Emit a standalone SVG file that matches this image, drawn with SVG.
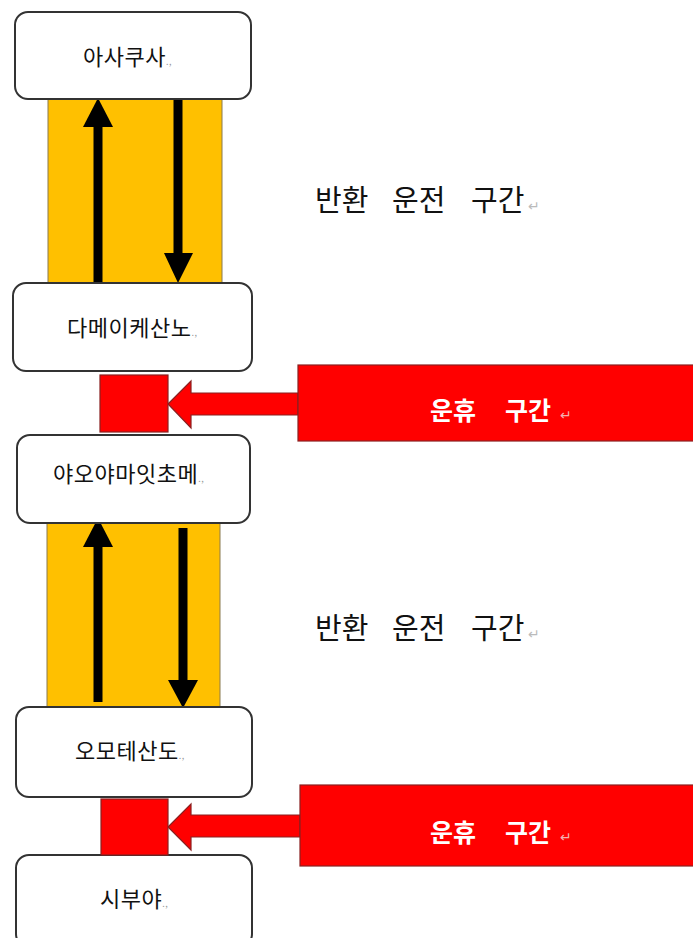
<svg xmlns="http://www.w3.org/2000/svg" width="693" height="938" viewBox="0 0 693 938">
<defs>
<style>
.box{fill:#fff;stroke:#333;stroke-width:2}
.band{fill:#FFC000;stroke:#8a7a50;stroke-width:1}
.blk{stroke:#000;stroke-width:9;fill:none}
.red{fill:#FF0000;stroke:#8a2020;stroke-width:1.2}
.lbl{font-family:"Noto Sans CJK KR","Noto Sans",sans-serif;font-size:22px;fill:#111;letter-spacing:0.5px}
.mark{font-family:"Noto Sans CJK KR","Noto Sans",sans-serif;font-size:9px;fill:#999}
.sec{font-family:"Noto Sans CJK KR","Noto Sans",sans-serif;font-size:29px;fill:#111}
.wt{font-family:"Noto Sans CJK KR","Noto Sans",sans-serif;font-size:25px;fill:#fff;font-weight:bold}
.ret{font-family:"Noto Sans CJK KR","Noto Sans",sans-serif;font-size:14px;fill:#bbb}
.retw{font-family:"Noto Sans CJK KR","Noto Sans",sans-serif;font-size:14px;fill:#f3b0b0}
</style>
</defs>
<rect width="693" height="938" fill="#fff"/>

<g id="bands">
<rect class="band" x="48" y="98" width="174" height="185"/>
<rect class="band" x="47" y="523" width="173" height="184"/>
</g>

<g id="connectors">
<line class="blk" x1="98" y1="283" x2="98" y2="124"/>
<polygon points="98,98 83,127 113,127" fill="#000"/>
<line class="blk" x1="178" y1="98" x2="178" y2="256"/>
<polygon points="178,283 164,253 193,253" fill="#000"/>
<line class="blk" x1="98" y1="702" x2="98" y2="544"/>
<polygon points="98,518 83,547 113,547" fill="#000"/>
<line class="blk" x1="183" y1="528" x2="183" y2="683"/>
<polygon points="183,708 168,680 198,680" fill="#000"/>
<polygon class="red" points="168,404 191,381 191,393 298,393 298,415 191,415 191,428"/>
<polygon class="red" points="168,827 191,804 191,815 300,815 300,837 191,837 191,850"/>
</g>

<g id="n-asakusa">
<rect class="box" x="15" y="12" width="236" height="87" rx="13"/>
<text class="lbl" x="83" y="65">아사쿠사<tspan class="mark">.,</tspan></text>
</g>
<g id="n-tameike">
<rect class="box" x="13" y="283" width="239" height="88" rx="13"/>
<text class="lbl" x="67" y="336">다메이케산노<tspan class="mark">.,</tspan></text>
</g>
<g id="n-aoyama">
<rect class="box" x="17" y="435" width="233" height="88" rx="13"/>
<text class="lbl" x="53" y="482">야오야마잇초메<tspan class="mark">.,</tspan></text>
</g>
<g id="n-omotesando">
<rect class="box" x="16" y="707" width="236" height="90" rx="13"/>
<text class="lbl" x="75" y="759">오모테산도<tspan class="mark">.,</tspan></text>
</g>
<g id="n-shibuya">
<rect class="box" x="16" y="855" width="236" height="92" rx="13"/>
<text class="lbl" x="100" y="907">시부야<tspan class="mark">.,</tspan></text>
</g>

<g id="stop1">
<rect class="red" x="100" y="375" width="68" height="57"/>
</g>
<g id="stop2">
<rect class="red" x="101" y="799" width="67" height="56"/>
</g>

<g id="rest1">
<rect class="red" x="298" y="365" width="397" height="76"/>
<text class="wt" x="430" y="420">운휴</text>
<text class="wt" x="505" y="420">구간</text>
<text class="retw" x="560" y="420">↵</text>
</g>
<g id="rest2">
<rect class="red" x="300" y="785" width="395" height="81"/>
<text class="wt" x="430" y="842">운휴</text>
<text class="wt" x="505" y="842">구간</text>
<text class="retw" x="560" y="842">↵</text>
</g>

<g id="turn1">
<text class="sec" x="315" y="211">반환</text>
<text class="sec" x="392" y="211">운전</text>
<text class="sec" x="471" y="211">구간</text>
<text class="ret" x="528" y="211">↵</text>
</g>
<g id="turn2">
<text class="sec" x="315" y="639">반환</text>
<text class="sec" x="392" y="639">운전</text>
<text class="sec" x="471" y="639">구간</text>
<text class="ret" x="528" y="639">↵</text>
</g>
</svg>
